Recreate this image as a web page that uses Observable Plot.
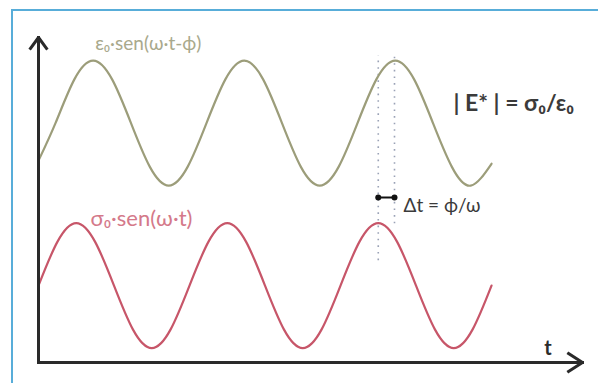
<!DOCTYPE html>
<html>
<head>
<meta charset="utf-8">
<script src="https://cdn.jsdelivr.net/npm/d3@7"></script>
<script src="https://cdn.jsdelivr.net/npm/@observablehq/plot@0.6"></script>
<style>
  html, body { margin: 0; padding: 0; background: #fff; }
  #wrap { position: relative; width: 598px; height: 383px; overflow: hidden; }
  #frame { position: absolute; left: 11px; top: 9px; width: 620px; height: 420px;
           border-left: 2px solid #58add9; border-top: 2px solid #58add9; pointer-events: none; }
  svg { position: absolute; left: 0; top: 0; }
</style>
</head>
<body>
<div id="wrap"><div id="frame"></div></div>
<script>
// Time positions (quarter period = 1 unit) and wave readings (amplitude = 1)
const redT = [0,0.5,1,1.5,2,2.5,3,3.5,4,4.5,5,5.5,6,6.5,7,7.5,8,8.5,9,9.5,10,10.5,11,11.5,12];
const redV = [0,0.7,1,0.7,0,-0.7,-1,-0.7,0,0.7,1,0.7,0,-0.7,-1,-0.7,0,0.7,1,0.7,0,-0.7,-1,-0.7,0];
const greenT = [0,0.45,0.95,1.45,1.95,2.45,2.95,3.45,3.95,4.45,4.95,5.45,5.95,6.45,6.95,7.45,7.95,8.45,8.95,9.45,9.95,10.45,10.95,11.45,12];
const greenV = [-0.6,0,0.7,1,0.7,0,-0.7,-1,-0.7,0,0.7,1,0.7,0,-0.7,-1,-0.7,0,0.7,1,0.7,0,-0.7,-1,-0.65];
const redBase = 1.23;
const greenBase = 3.83;
const axisEnd = {t: 14.41, y: 5.2};
const peakRedT = 9.0, peakGreenT = 9.43;
const plainLabels = [
  {t: 1.5, y: 5.1, text: "ε₀·sen(ω·t-ϕ)", color: "#a9a98c", size: 19},
  {t: 1.38, y: 2.3, text: "σ₀·sen(ω·t)", color: "#d4798a", size: 22},
  {t: 9.67, y: 2.51, text: "Δt = ϕ/ω", color: "#3b3b3b", size: 19}
];
const boldLabels = [
  {t: 10.99, y: 4.14, text: "| E* | = σ₀/ε₀", color: "#3b3b3b", size: 23},
  {t: 13.4, y: 0.22, text: "t", color: "#2b2b2b", size: 20}
];

const red = redT.map((t, i) => ({t, y: redBase + redV[i]}));
const green = greenT.map((t, i) => ({t, y: greenBase + greenV[i]}));

const plot = Plot.plot({
  width: 598, height: 383,
  marginLeft: 38, marginRight: 16, marginTop: 37, marginBottom: 21,
  x: {domain: [0, axisEnd.t], axis: null},
  y: {domain: [0, axisEnd.y], axis: null},
  style: {background: "transparent", fontFamily: "Lato, 'Open Sans', sans-serif"},
  marks: [
    // dotted guides
    Plot.ruleX([{t: peakRedT, y1: 1.63, y2: 4.91}], {x: "t", y1: "y1", y2: "y2", stroke: "#9aa2b6", strokeWidth: 1.6, strokeDasharray: "1.6,5"}),
    Plot.ruleX([{t: peakGreenT, y1: 2.22, y2: 4.94}], {x: "t", y1: "y1", y2: "y2", stroke: "#9aa2b6", strokeWidth: 1.6, strokeDasharray: "1.6,5"}),
    // waves
    Plot.line(green, {x: "t", y: "y", curve: "natural", stroke: "#9c9d7a", strokeWidth: 2.2}),
    Plot.line(red, {x: "t", y: "y", curve: "natural", stroke: "#c75669", strokeWidth: 2.2}),
    // axes
    Plot.arrow([{x1: 0, y1: 0, x2: 0, y2: axisEnd.y}], {x1: "x1", y1: "y1", x2: "x2", y2: "y2", stroke: "#2a2a2a", strokeWidth: 3, headLength: 6.8, headAngle: 72, strokeLinecap: "square"}),
    Plot.arrow([{x1: 0, y1: 0, x2: axisEnd.t, y2: 0}], {x1: "x1", y1: "y1", x2: "x2", y2: "y2", stroke: "#2a2a2a", strokeWidth: 3, headLength: 8.3, headAngle: 66, strokeLinecap: "square"}),
    // delta t marker
    Plot.link([{a: peakRedT, b: peakGreenT, y: 2.64}], {x1: "a", x2: "b", y1: "y", y2: "y", stroke: "#111", strokeWidth: 2}),
    Plot.dot([{t: peakRedT, y: 2.64}, {t: peakGreenT, y: 2.64}], {x: "t", y: "y", r: 3, fill: "#111", stroke: null}),
    // labels
    Plot.text(plainLabels, {x: "t", y: "y", text: "text", fill: "color", fontSize: "size", textAnchor: "start"}),
    Plot.text(boldLabels, {x: "t", y: "y", text: "text", fill: "color", fontSize: "size", textAnchor: "start", fontWeight: "bold"})
  ]
});
document.getElementById("wrap").appendChild(plot);
</script>
</body>
</html>
